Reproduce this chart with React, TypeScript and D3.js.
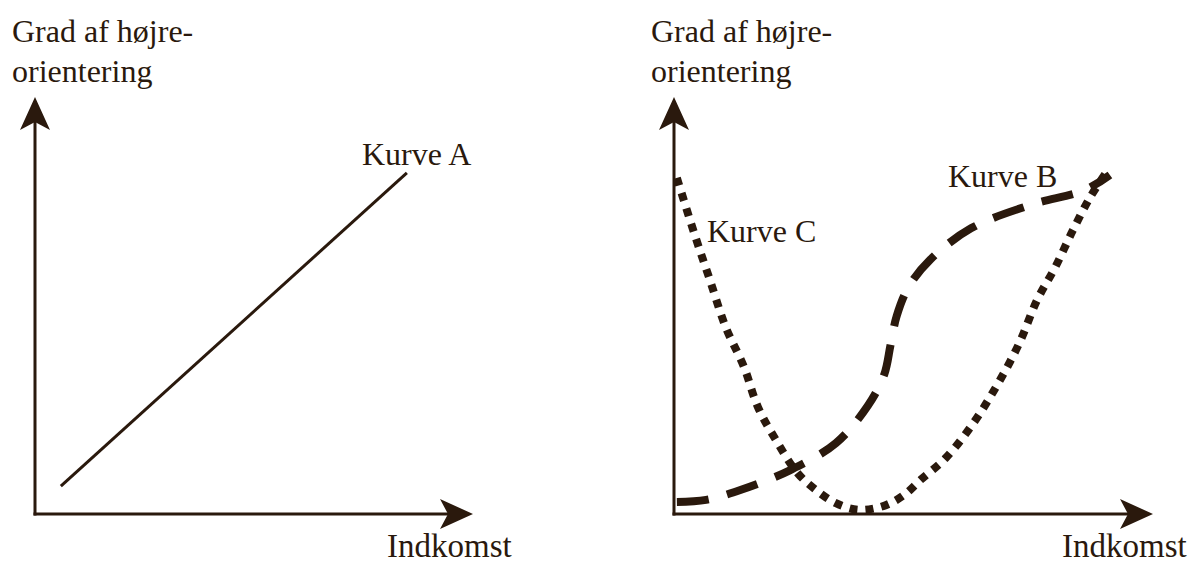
import React from "react";
import * as d3 from "d3";

// values on a 0-100 scale for both axes (income, degree of right-orientation)
const incomeA = [5.9, 84.9];
const rightA = [6.7, 81.8];

const incomeB = [0.6, 6.7, 14.0, 24.4, 33.8, 40.5, 43.9, 45.2, 46.5, 49.0, 53.5, 62.0, 74.4, 85.8, 91.0];
const rightB = [2.9, 3.4, 5.8, 10.6, 17.0, 26.0, 33.5, 40.5, 47.5, 54.5, 61.0, 68.5, 74.1, 77.7, 81.3];

const incomeC = [0.6, 4.2, 7.5, 10.8, 14.6, 17.5, 21.3, 25.8, 29.6, 33.8, 38.3, 42.1, 45.2, 48.3, 51.5, 56.7, 62.5, 67.7, 72.1, 75.8, 79.6, 83.3, 86.9, 90.6];
const rightC = [80.6, 67.4, 56.1, 44.8, 35.3, 25.7, 17.7, 9.8, 5.8, 2.6, 1.0, 1.4, 2.6, 4.8, 8.2, 13.4, 21.8, 31.4, 41.0, 51.3, 59.2, 68.1, 76.0, 82.5];

const yTitle = ["Grad af højre-", "orientering"];
const xTitle = "Indkomst";
const curveNames = ["Kurve A", "Kurve B", "Kurve C"];

const INK = "#2a190d";
const FONT = "'Liberation Serif', 'Times New Roman', serif";

type Pt = [number, number];
type Scale = d3.ScaleLinear<number, number>;
const zip = (xs: number[], ys: number[]): Pt[] => xs.map((x, i) => [x, ys[i]]);

function Arrow({ x, y, dir }: { x: number; y: number; dir: "up" | "right" }) {
  const len = 33, half = 15, notch = 8;
  const pts =
    dir === "up"
      ? [[x, y], [x + half, y + len], [x, y + len - notch], [x - half, y + len]]
      : [[x, y], [x - len, y - half], [x - len + notch, y], [x - len, y + half]];
  return <polygon points={pts.map((p) => p.join(",")).join(" ")} fill={INK} />;
}

function Panel({ left, right, children, labels }: { left: number; right: number; children: (x: Scale, y: Scale) => React.ReactNode; labels: React.ReactNode }) {
  const x = d3.scaleLinear().domain([0, 100]).range([left, right]);
  const y = d3.scaleLinear().domain([0, 100]).range([514, 97]);
  const x0 = x(0), y0 = y(0);
  return (
    <g>
      <line x1={x0} y1={y0 + 1.5} x2={x0} y2={y(100) + 20} stroke={INK} strokeWidth={3} />
      <line x1={x0 - 1.5} y1={y0} x2={x(100) - 20} y2={y0} stroke={INK} strokeWidth={3} />
      <Arrow x={x0} y={y(100)} dir="up" />
      <Arrow x={x(100)} y={y0} dir="right" />
      {children(x, y)}
      <g fontFamily={FONT} fontSize={32} fill={INK}>
        <text x={left - 23} y={42}>{yTitle[0]}</text>
        <text x={left - 23} y={82}>{yTitle[1]}</text>
        {labels}
      </g>
    </g>
  );
}

export default function App() {
  return (
    <svg width={1196} height={565} style={{ position: "absolute", left: 0, top: 0, background: "#fff" }}>
      <Panel
        left={35}
        right={473}
        labels={
          <>
            <text x={362} y={165}>{curveNames[0]}</text>
            <text x={387} y={557} fontSize={33}>{xTitle}</text>
          </>
        }
      >
        {(x, y) => {
          const line = d3.line<Pt>().x((d) => x(d[0])).y((d) => y(d[1]));
          return <path d={line(zip(incomeA, rightA)) || ""} fill="none" stroke={INK} strokeWidth={3} />;
        }}
      </Panel>
      <Panel
        left={674}
        right={1153}
        labels={
          <>
            <text x={948} y={187}>{curveNames[1]}</text>
            <text x={707} y={242}>{curveNames[2]}</text>
            <text x={1062} y={557} fontSize={33}>{xTitle}</text>
          </>
        }
      >
        {(x, y) => {
          const smooth = d3.line<Pt>().x((d) => x(d[0])).y((d) => y(d[1])).curve(d3.curveCatmullRom);
          return (
            <>
              <path d={smooth(zip(incomeC, rightC)) || ""} fill="none" stroke={INK} strokeWidth={8} strokeDasharray="8 8" />
              <path d={smooth(zip(incomeB, rightB)) || ""} fill="none" stroke={INK} strokeWidth={8} strokeDasharray="32 19" />
            </>
          );
        }}
      </Panel>
    </svg>
  );
}
